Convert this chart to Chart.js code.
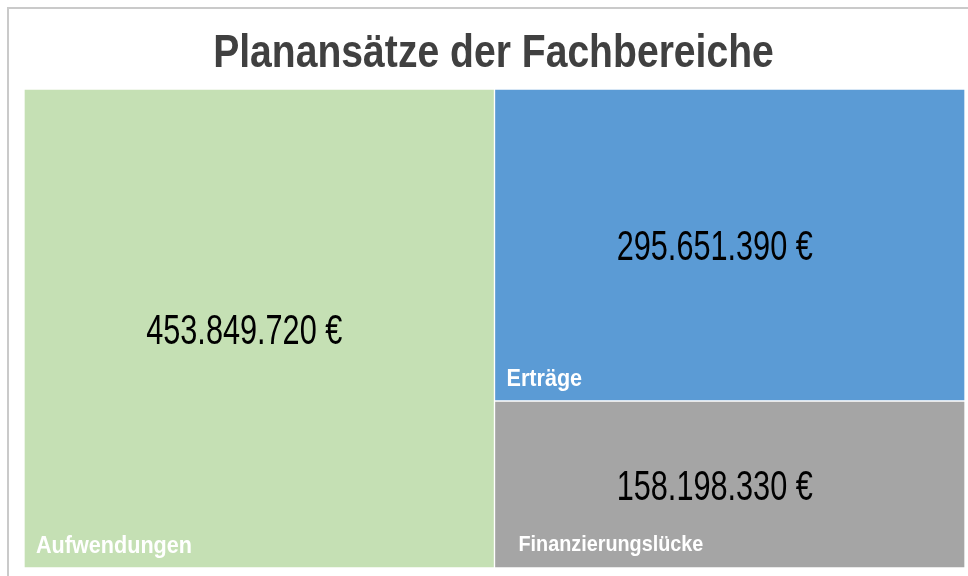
<!DOCTYPE html>
<html>
<head>
<meta charset="utf-8">
<script src="https://cdn.jsdelivr.net/npm/chart.js@4.4.1/dist/chart.umd.min.js"></script>
<style>
  html, body { margin: 0; padding: 0; background: #fff; }
  #frame { position: absolute; left: 7px; top: 7px; width: 1100px; height: 700px; border: 2px solid #cacaca; }
  #chart1 { position: absolute; left: 0; top: 0; }
</style>
</head>
<body>
<div id="frame"></div>
<canvas id="chart1" width="968" height="576"></canvas>
<script>
// treemap data
var title = "Planansätze der Fachbereiche";
var categories = ["Aufwendungen", "Erträge", "Finanzierungslücke"];
var values = [453849720, 295651390, 158198330];
var colors = ["#c5e0b4", "#5b9bd5", "#a5a5a5"];
// column of the treemap each tile sits in (Aufwendungen = Erträge + Finanzierungslücke)
var column = [0, 1, 1];
var stackOrder = [0, 2, 1]; // within a column: lower number sits lower

function fmtEuro(v) {
  return String(v).replace(/\B(?=(\d{3})+(?!\d))/g, ".") + " €";
}

var colTotals = [0, 0];
values.forEach(function(v, i){ colTotals[column[i]] += v; });

var datasets = categories.map(function(name, i){
  var d = [null, null];
  d[column[i]] = values[i];
  return {
    label: name,
    data: d,
    backgroundColor: colors[i],
    borderColor: "#ffffff",
    borderWidth: 1,
    borderSkipped: false,
    order: stackOrder[i]
  };
});

function squeezedText(ctx, text, x, y, font, sx, color, align) {
  ctx.save();
  ctx.font = font;
  ctx.fillStyle = color;
  ctx.textBaseline = "alphabetic";
  var w = ctx.measureText(text).width * sx;
  var left = align === "left" ? x : x - w / 2;
  ctx.translate(left, y);
  ctx.scale(sx, 1);
  ctx.textAlign = "left";
  ctx.fillText(text, 0, 0);
  ctx.restore();
}

var tileLabels = {
  id: "tileLabels",
  afterDatasetsDraw: function(chart) {
    var ctx = chart.ctx;
    chart.data.datasets.forEach(function(ds, i){
      var bar = chart.getDatasetMeta(i).data[column[i]];
      if (!bar) return;
      var p = bar.getProps(["x", "y", "base", "width"], true);
      var left = p.x - p.width / 2;
      var top = Math.min(p.y, p.base), bottom = Math.max(p.y, p.base);
      var mid = (top + bottom) / 2;
      // value in the middle
      squeezedText(ctx, fmtEuro(values[i]), p.x - 15, mid + 15,
        "42px 'Liberation Sans', Arial, sans-serif", 0.73, "#000000", "center");
      // category name bottom left
      var small = (bottom - top) < 200;
      squeezedText(ctx, categories[i], left + (small ? 24 : 12), bottom - (small ? 17 : 15),
        "bold " + (small ? 22 : 24) + "px 'Liberation Sans', Arial, sans-serif", 0.9, "#ffffff", "left");
    });
  },
  afterDraw: function(chart) {
    var a = chart.chartArea;
    squeezedText(chart.ctx, title, (a.left + a.right) / 2 - 1, 67,
      "bold 46px 'Liberation Sans', Arial, sans-serif", 0.85, "#404040", "center");
  }
};

new Chart(document.getElementById("chart1"), {
  type: "bar",
  data: { labels: ["links", "rechts"], datasets: datasets },
  options: {
    responsive: false,
    devicePixelRatio: 1,
    animation: false,
    layout: { padding: { left: 24, top: 89, right: 3, bottom: 8 } },
    datasets: { bar: { barPercentage: 1, categoryPercentage: 1 } },
    plugins: { legend: { display: false }, tooltip: { enabled: false }, title: { display: false } },
    scales: {
      x: { display: false, stacked: true },
      y: { display: false, stacked: true, min: 0, max: Math.max.apply(null, colTotals) }
    }
  },
  plugins: [tileLabels]
});
</script>
</body>
</html>
